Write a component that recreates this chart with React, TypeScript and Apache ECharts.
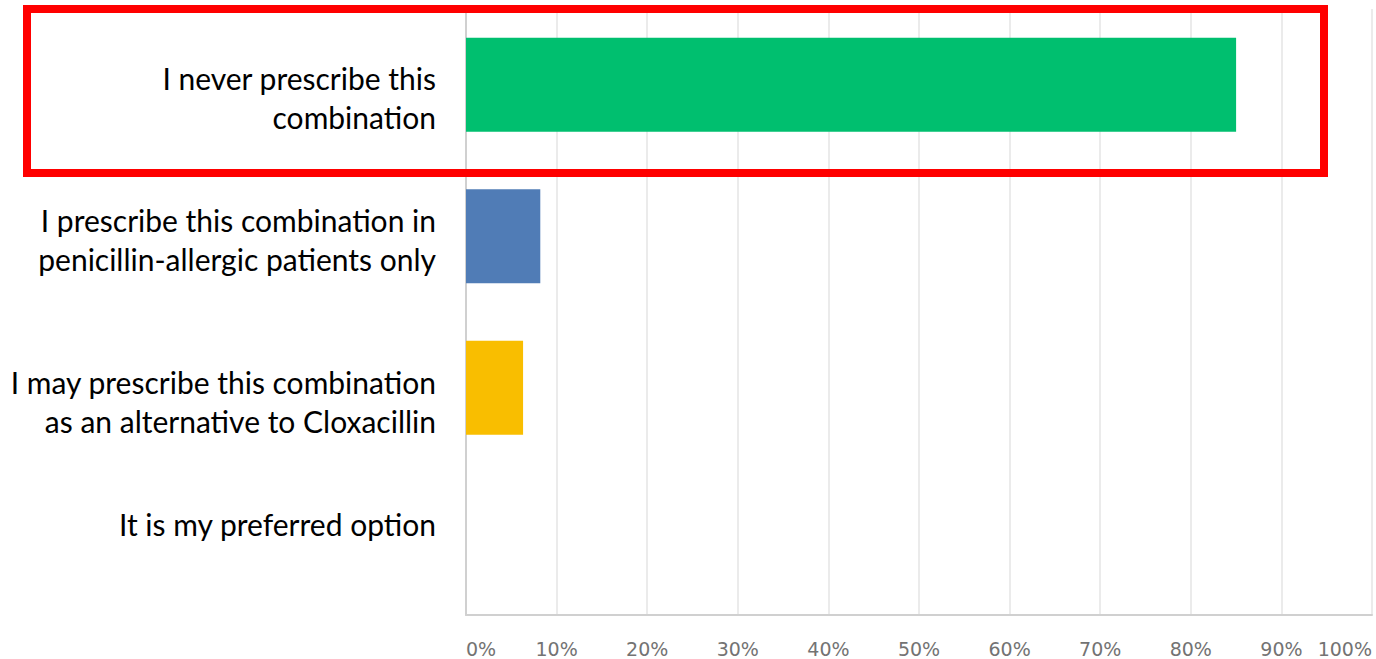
import React, { useEffect, useRef } from "react";
import * as echarts from "echarts";

const categories = [
  "I never prescribe this\ncombination",
  "I prescribe this combination in\npenicillin-allergic patients only",
  "I may prescribe this combination\nas an alternative to Cloxacillin",
  "It is my preferred option",
];
const values = [85, 8.2, 6.3, 0];
const barColors = ["#00BF6F", "#507CB6", "#F9BE00", "#6BC8CD"];
const xTicks = [0, 10, 20, 30, 40, 50, 60, 70, 80, 90, 100];
// vertical offset of each category label (px, positive = down)
const labelShift = [13, 3, 14, -15];

export default function App() {
  const ref = useRef<HTMLDivElement>(null);
  useEffect(() => {
    if (!ref.current) return;
    const chart = echarts.init(ref.current, null, { renderer: "svg" });
    const rich: Record<string, any> = {};
    labelShift.forEach((s, i) => {
      rich["c" + i] = {
        color: "#000",
        fontFamily: "Lato",
        fontSize: 30,
        lineHeight: 39,
        align: "right",
        padding: s >= 0 ? [2 * s, 0, 0, 0] : [0, 0, -2 * s, 0],
      };
    });
    chart.setOption({
      animation: false,
      grid: { left: 466, right: 4, top: 9, bottom: 44, containLabel: false },
      xAxis: {
        type: "value",
        min: 0,
        max: 100,
        interval: 10,
        axisLine: { show: true, lineStyle: { color: "#d0d0d0", width: 2 } },
        axisTick: { show: false },
        splitLine: { show: true, lineStyle: { color: "#ebebeb", width: 2 } },
        axisLabel: {
          formatter: (v: number) => (xTicks.includes(v) ? v + "%" : ""),
          color: "#737373",
          fontFamily: "DejaVu Sans",
          fontSize: 19,
          margin: 24,
          alignMinLabel: "left",
          alignMaxLabel: "right",
        },
      },
      yAxis: {
        type: "category",
        data: categories,
        inverse: true,
        axisLine: { show: true, lineStyle: { color: "#d0d0d0", width: 2 } },
        axisTick: { show: false },
        axisLabel: {
          margin: 30,
          align: "right",
          formatter: (v: string, i: number) => "{c" + i + "|" + v + "}",
          rich,
        },
      },
      series: [
        {
          type: "bar",
          data: values.map((v, i) => ({ value: v, itemStyle: { color: barColors[i] } })),
          barCategoryGap: "38%",
        },
      ],
      graphic: [
        {
          type: "rect",
          shape: { x: 27, y: 9, width: 1297, height: 164 },
          style: { fill: "none", stroke: "#FF0000", lineWidth: 8 },
          z: 100,
        },
      ],
    });
    return () => chart.dispose();
  }, []);
  return <div ref={ref} style={{ width: 1376, height: 659, position: "absolute", left: 0, top: 0 }} />;
}
